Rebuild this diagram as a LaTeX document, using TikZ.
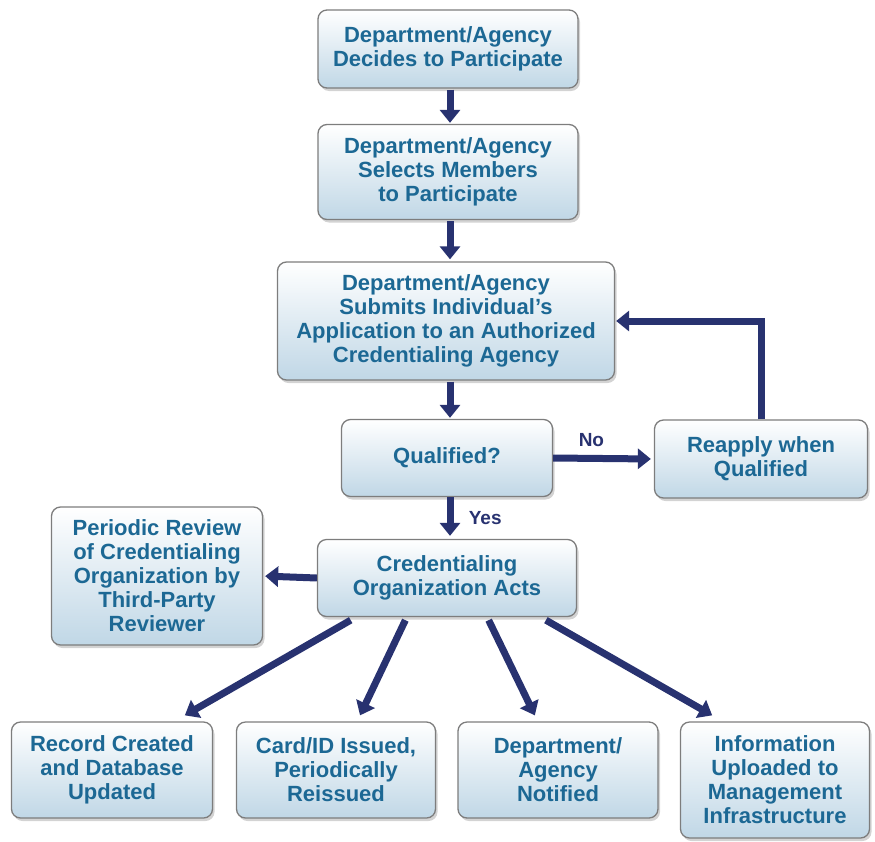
\documentclass[tikz,border=0pt]{standalone}
\usepackage{fontspec}
\setmainfont{Liberation Sans}
\usetikzlibrary{arrows.meta,shadows,calc}
\definecolor{txt}{RGB}{28,104,148}
\definecolor{arr}{RGB}{40,50,112}
\definecolor{boxbot}{RGB}{192,215,230}
\definecolor{boxline}{RGB}{125,125,125}
\begin{document}
\begin{tikzpicture}[x=1pt,y=-1pt,
 box/.style={draw=boxline, line width=1.3pt, rounded corners=9pt,
   top color=white, middle color=white, bottom color=boxbot,
   drop shadow={shadow xshift=2pt,shadow yshift=-3pt,opacity=0.35},
   font=\fontsize{22}{24}\selectfont\bfseries, text=txt, align=center, inner sep=0pt},
 flow/.style={draw=arr, line width=7pt, -{Triangle[width=20pt,length=13pt]}},
 lab/.style={font=\fontsize{19}{22}\selectfont\bfseries, text=arr}]
\useasboundingbox (0,0) rectangle (875,841);

\node[box, minimum width=260pt, minimum height=78pt] (d1) at (448,49) {Department/Agency\\Decides to Participate};
\node[box, minimum width=260pt, minimum height=95pt] (d2) at (448,172) {Department/Agency\\Selects Members\\to Participate};
\node[box, minimum width=337pt, minimum height=118pt] (d3) at (446,321) {Department/Agency\\Submits Individual’s\\Application to an Authorized\\Credentialing Agency};
\node[box, minimum width=211pt, minimum height=77pt] (q) at (447,458) {Qualified?};
\node[box, minimum width=213pt, minimum height=78pt] (re) at (761,459) {Reapply when\\Qualified};
\node[box, minimum width=211pt, minimum height=138pt] (pr) at (157,576) {Periodic Review\\of Credentialing\\Organization by\\Third-Party\\Reviewer};
\node[box, minimum width=259pt, minimum height=77pt] (acts) at (447,578) {Credentialing\\Organization Acts};
\node[box, minimum width=201pt, minimum height=96pt] (rec) at (112,770) {Record Created\\and Database\\Updated};
\node[box, minimum width=199pt, minimum height=96pt] (card) at (336,770) {Card/ID Issued,\\Periodically\\Reissued};
\node[box, minimum width=200pt, minimum height=96pt] (notif) at (558,770) {Department/\\Agency\\Notified};
\node[box, minimum width=189pt, minimum height=116pt] (info) at (775,780) {Information\\Uploaded to\\Management\\Infrastructure};

\draw[flow, shorten <=1pt, shorten >=1pt] ($(d1.south)+(2,0)$) -- ($(d2.north)+(2,0)$);
\draw[flow, shorten <=1pt, shorten >=2pt] ($(d2.south)+(2,0)$) -- ($(d3.north)+(4,0)$);
\draw[flow, shorten <=1pt, shorten >=1pt] ($(d3.south)+(4,0)$) -- ($(q.north)+(3,0)$);
\draw[flow, shorten >=3pt] (q.east) -- (re.west) node[lab, pos=0.38, above=5pt] {No};
\draw[flow, shorten >=1pt] (re.north) |- (d3.east);
\draw[flow, shorten >=3pt] ($(q.south)+(3,0)$) -- ($(acts.north)+(3,0)$) node[lab, midway, right=12pt] {Yes};
\draw[flow, shorten >=2pt] (acts.west) -- (pr.east);
\draw[flow] ($(acts.south west)!0.13!(acts.south east)+(0,3)$) -- ($(rec.north west)!0.86!(rec.north east)+(0,-6)$);
\draw[flow] ($(acts.south west)!0.34!(acts.south east)+(0,3)$) -- ($(card.north west)!0.62!(card.north east)+(0,-6)$);
\draw[flow] ($(acts.south west)!0.66!(acts.south east)+(0,3)$) -- ($(notif.north west)!0.385!(notif.north east)+(0,-6)$);
\draw[flow] ($(acts.south west)!0.88!(acts.south east)+(0,3)$) -- ($(info.north west)!0.17!(info.north east)+(0,-6)$);
\end{tikzpicture}
\end{document}
